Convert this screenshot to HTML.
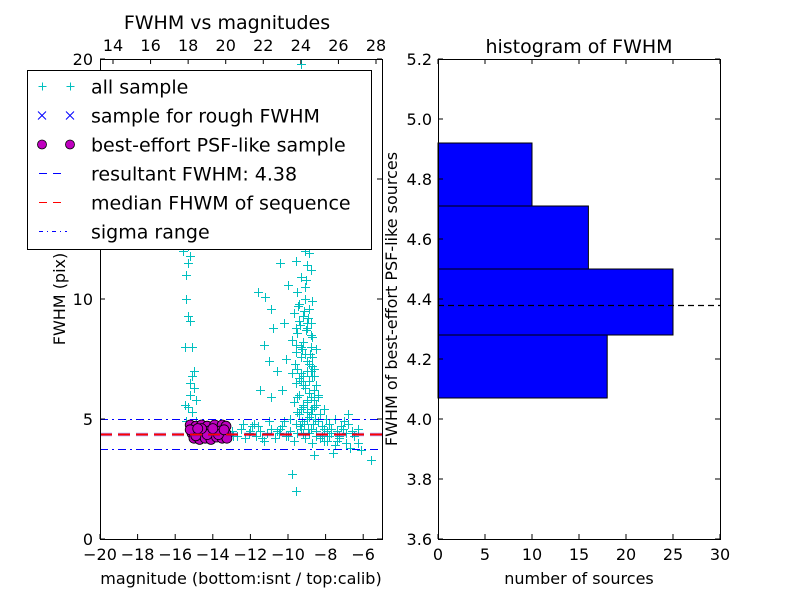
<!DOCTYPE html>
<html><head><meta charset="utf-8"><style>
body{margin:0;background:#fff;}
svg text{font-family:"DejaVu Sans","Liberation Sans",sans-serif;fill:#000;}
</style></head><body>
<svg id="fig" width="800" height="600" viewBox="0 0 800 600">
<rect width="800" height="600" fill="#fff"/>
<g id="left"></g>
<g id="right"></g>
</svg>
<script>
// ---- data ----
const allX=[-15.4,-15.3,-15.2,-15.3,-15.4,-15.3,-15.2,-15.4,-15.4,-15.3,-15.2,-15.5,-15.1,-15.0,-15.1,-15.2,-15.0,-15.2,-14.9,-15.3,-15.1,-15.4,-14.9,-15.5,-15.6,-15.3,
-9.3,-9.6,-9.2,-9.9,-8.9,-10.3,-9.5,-9.0,-10.1,-9.4,-8.7,-9.8,-9.1,-10.4,-9.6,-8.8,-9.3,-10.0,-9.5,-9.1,-8.9,-9.7,-9.4,-10.2,-9.0,-9.5,-9.8,-9.2,-8.8,-9.6,-9.3,-10.1,-9.0,-8.7,-9.5,-9.8,-9.2,-8.9,-9.6,-9.1,-8.6,-10.3,-9.4,-8.8,-9.0,-9.7,-8.5,-9.2,-8.7,-9.5,-8.3,-8.9,-9.9,-8.4,-7.8,-8.1,-7.5,-7.2,-6.8,-7.9,
-11.6,-11.2,-10.9,-10.8,-11.3,-11.0,-10.6,-11.5,-10.9,-11.8,-10.5,-9.9,-8.6,-10.8,-9.7,-9.4,-9.2,-9.0,-8.8,-9.3,-9.1,-8.9,-9.4,-9.2,-8.9,-9.0,-9.3,-8.8,-8.6,-9.1,-8.7,-8.5,-8.8,-8.4,-9.0,-8.6,
-13.0,-12.7,-12.5,-12.3,-12.1,-11.9,-11.7,-11.5,-11.3,-11.1,-10.9,-10.7,-10.5,-10.3,-10.1,-9.9,-9.7,-9.5,-9.3,-9.1,-8.9,-8.7,-8.5,-8.3,-8.1,-7.9,-7.7,-7.5,-7.3,-7.1,-6.9,-6.7,-6.5,-6.3,-6.1,-5.6,-8.6,-9.8,-9.6,-6.8,-7.6,-12.9,-12.0,-11.4,-10.6,-10.0,-9.2,-8.2,-7.4,-6.6,
-9.45,-9.15,-8.95,-9.35,-9.05,-8.75,-9.55,-9.25,-8.85,-9.65,-9.0,-8.7,-9.3,-9.1,-8.9,-9.5,-8.6,-9.2,-8.8,-9.4,-9.0,-8.55,-9.15,-8.65,-9.35,-8.95,-9.25,-8.8,-9.05,-8.5,-9.45,-8.7,-9.6,-8.9,-9.1,-8.4,-9.3,-8.6,-9.0,-8.8,
-8.2,-8.0,-7.7,-7.4,-7.0,-6.6,-6.3,-8.5,-8.1,-7.8,-7.3,-6.9,-10.2,-9.6,-11.0,-10.4,-12.4,-11.6];
const allY=[15.0,14.5,13.8,13.2,12.5,12.2,11.8,11.0,10.0,9.3,9.1,8.0,8.0,7.0,6.8,6.5,6.3,6.0,5.8,5.5,5.3,4.9,4.9,5.6,12.0,11.5,
19.8,17.5,16.8,16.0,15.5,15.2,14.8,14.3,13.5,13.0,12.8,12.4,12.0,11.5,11.6,11.2,10.9,10.6,10.3,10.0,9.6,9.4,9.1,9.0,8.8,8.6,8.3,8.2,8.0,7.8,7.6,7.5,7.4,7.2,7.1,6.9,6.8,6.6,6.5,6.3,6.2,6.2,6.0,5.9,5.7,5.7,5.6,5.5,5.4,5.3,5.2,5.1,5.0,4.9,4.8,5.4,5.0,4.7,5.2,4.5,
10.3,10.1,9.6,8.8,8.1,7.4,7.0,6.2,5.9,4.8,14.5,18.6,13.6,16.3,17.0,9.8,9.3,9.0,8.5,8.0,7.7,7.3,6.7,6.4,6.1,5.8,5.4,5.2,6.8,10.5,9.9,7.9,7.0,6.0,11.4,5.5,
4.5,4.3,4.6,4.2,4.4,4.7,4.3,4.5,4.1,4.4,4.6,4.2,4.4,4.7,4.3,4.5,4.1,4.4,4.6,4.2,4.4,4.0,4.5,4.2,4.6,4.1,4.4,3.9,4.3,4.6,4.0,3.8,4.3,4.0,3.7,3.3,3.5,2.7,2.0,4.8,3.6,4.3,4.5,4.2,4.5,4.3,4.4,4.3,4.1,4.5,
9.7,9.5,9.2,8.9,8.7,8.4,8.1,7.9,7.7,7.3,7.0,6.8,6.6,6.4,6.1,5.9,5.8,5.6,5.4,5.2,5.0,5.0,4.8,4.8,4.7,4.6,4.9,4.6,10.8,6.4,12.6,7.6,8.8,11.9,13.2,5.9,6.9,7.1,5.3,9.0,
4.7,5.0,4.6,4.5,4.9,4.4,4.6,4.3,4.1,4.3,4.2,4.4,4.9,4.8,4.9,4.6,4.8,4.7];
const psfX=[-15.2,-14.9,-14.6,-14.3,-13.9,-13.5,-13.3,-15.1,-14.8,-14.5,-14.2,-13.9,-13.6,-13.3,-15.0,-14.7,-14.4,-14.1,-13.8,-13.5,-13.25,-14.9,-14.3,-13.7,-14.0,-14.6,-13.4,-15.2,-14.8];
const psfY=[4.75,4.7,4.75,4.7,4.75,4.75,4.7,4.4,4.5,4.4,4.5,4.45,4.5,4.4,4.2,4.15,4.2,4.15,4.25,4.2,4.2,4.3,4.35,4.35,4.6,4.6,4.55,4.55,4.6];
const resultFWHM=4.38, sigmaLo=3.76, sigmaHi=5.0;
const xTicksBottom=[-20,-18,-16,-14,-12,-10,-8,-6];
const xTicksTop=[14,16,18,20,22,24,26,28];
const yTicksLeft=[0,5,10,15,20];
const binEdges=[4.07,4.28,4.50,4.71,4.92];
const binCounts=[18,25,16,10];
const histXTicks=[0,5,10,15,20,25,30];
const histYTicks=[3.6,3.8,4.0,4.2,4.4,4.6,4.8,5.0,5.2];

const NS="http://www.w3.org/2000/svg";
function mk(parent,tag,attrs,txt){const e=document.createElementNS(NS,tag);for(const k in attrs)e.setAttribute(k,attrs[k]);if(txt!==undefined)e.textContent=txt;parent.appendChild(e);return e;}

// ---- left panel ----
const L=document.getElementById('left');
const lx0=100,lx1=382,ly0=59,ly1=539;
const sx=v=>lx0+(v+20)/15*(lx1-lx0);
const sy=v=>ly1-v/20*(ly1-ly0);
const stx=v=>113+(v-14)/14*(376-113);
mk(L,'clipPath',{id:'lclip'});
mk(document.getElementById('lclip'),'rect',{x:lx0,y:ly0,width:lx1-lx0,height:ly1-ly0});
const pts=mk(L,'g',{'clip-path':'url(#lclip)'});


for(let i=0;i<allX.length;i++){const x=Math.round(sx(allX[i]))+0.5,y=Math.round(sy(allY[i]))+0.5;
 const p=mk(pts,'path',{d:`M${x-4.5},${y}H${x+4.5}M${x},${y-4.5}V${y+4.5}`,stroke:'#00bfbf','stroke-width':1});
 
 }
const ps=mk(L,'g',{});


for(let i=0;i<psfX.length;i++){const c=mk(ps,'circle',{cx:sx(psfX[i]),cy:sy(psfY[i]),r:5,fill:'#bf00bf',stroke:'#000','stroke-width':0.8});
 
 }
let ln;
const ry=v=>Math.round(sy(v))+0.5;
ln=mk(L,'line',{x1:lx0,x2:lx1,y1:ry(resultFWHM),y2:ry(resultFWHM),stroke:'#0000ff','stroke-width':3.5,'stroke-dasharray':'12,6',opacity:0.35});

ln=mk(L,'line',{x1:lx0,x2:lx1,y1:ry(resultFWHM),y2:ry(resultFWHM),stroke:'#ff0000','stroke-width':2,'stroke-dasharray':'12,6'});

for(const v of [sigmaLo,sigmaHi]){ln=mk(L,'line',{x1:lx0,x2:lx1,y1:ry(v),y2:ry(v),stroke:'#0000ff','stroke-width':1,'stroke-dasharray':'8,4,2,4'});
 }
mk(L,'rect',{x:lx0+0.5,y:ly0+0.5,width:lx1-lx0,height:ly1-ly0,fill:'none',stroke:'#000','stroke-width':1});
for(const t of xTicksBottom){const x=sx(t);mk(L,'path',{d:`M${x},${ly1}v-5M${x},${ly0}v0`,stroke:'#000'});
 mk(L,'text',{x:x,y:560,'text-anchor':'middle','font-size':16},t<0?'\u2212'+(-t):t);}
for(const t of xTicksTop){const x=stx(t);mk(L,'path',{d:`M${x},${ly0}v5`,stroke:'#000'});
 mk(L,'text',{x:x,y:51,'text-anchor':'middle','font-size':16},t);}
for(const t of yTicksLeft){const y=sy(t);mk(L,'path',{d:`M${lx0},${y}h5M${lx1},${y}h-5`,stroke:'#000'});
 mk(L,'text',{x:93,y:y+6,'text-anchor':'end','font-size':16},t);}
let tt;
tt=mk(L,'text',{x:241,y:584,'text-anchor':'middle','font-size':16},'magnitude (bottom:isnt / top:calib)');

tt=mk(L,'text',{x:0,y:0,'text-anchor':'middle','font-size':16,transform:'translate(65,299) rotate(-90)'},'FWHM (pix)');

tt=mk(L,'text',{x:227,y:29,'text-anchor':'middle','font-size':19},'FWHM vs magnitudes');

// legend
const lg=mk(L,'g',{});

mk(lg,'rect',{x:27.5,y:70.5,width:344,height:179,fill:'#fff',stroke:'#000'});
const labels=['all sample','sample for rough FWHM','best-effort PSF-like sample','resultant FWHM: 4.38','median FHWM of sequence','sigma range'];
labels.forEach((s,i)=>{const y=86.5+i*29;
 if(i==0){for(const x of [42.5,70.5])mk(lg,'path',{d:`M${x-4},${y}h8M${x},${y-4}v8`,stroke:'#00bfbf'});}
 if(i==1){for(const x of [42,70])mk(lg,'path',{d:`M${x-4},${y-4}l8,8M${x-4},${y+4}l8,-8`,stroke:'#0000ff'});}
 if(i==2){for(const x of [42,70])mk(lg,'circle',{cx:x,cy:y,r:4.5,fill:'#bf00bf',stroke:'#000','stroke-width':0.8});}
 if(i==3)mk(lg,'line',{x1:39,x2:67,y1:y,y2:y,stroke:'#0000ff','stroke-dasharray':'8,6'});
 if(i==4)mk(lg,'line',{x1:39,x2:67,y1:y,y2:y,stroke:'#ff0000','stroke-dasharray':'8,6'});
 if(i==5)mk(lg,'line',{x1:39,x2:67,y1:y,y2:y,stroke:'#0000ff','stroke-dasharray':'4,4,1,4'});
 const e=mk(lg,'text',{x:91,y:y+7,'font-size':19},s);
 });

// ---- right panel ----
const R=document.getElementById('right');
const rx0=438,rx1=720,ry0=59,ry1=539;
const hx=v=>rx0+v/30*(rx1-rx0);
const hy=v=>ry1-(v-3.6)/1.6*(ry1-ry0);
for(let i=0;i<binCounts.length;i++){const b=mk(R,'rect',{x:hx(0),y:hy(binEdges[i+1]),width:hx(binCounts[i])-hx(0),height:hy(binEdges[i])-hy(binEdges[i+1]),fill:'#0000ff',stroke:'#000','stroke-width':1});
 }
ln=mk(R,'line',{x1:rx0,x2:rx1,y1:Math.round(hy(resultFWHM))+0.5,y2:Math.round(hy(resultFWHM))+0.5,stroke:'#000','stroke-width':1.3,'stroke-dasharray':'6,4'});

mk(R,'rect',{x:rx0+0.5,y:ry0+0.5,width:rx1-rx0,height:ry1-ry0,fill:'none',stroke:'#000'});
for(const t of histXTicks){const x=hx(t);mk(R,'path',{d:`M${x},${ry1}v-5M${x},${ry0}v5`,stroke:'#000'});
 mk(R,'text',{x:x,y:560,'text-anchor':'middle','font-size':16},t);}
for(const t of histYTicks){const y=hy(t);mk(R,'path',{d:`M${rx0},${y}h5M${rx1},${y}h-5`,stroke:'#000'});
 mk(R,'text',{x:432,y:y+6,'text-anchor':'end','font-size':16},t.toFixed(1));}
tt=mk(R,'text',{x:579,y:584,'text-anchor':'middle','font-size':16},'number of sources');

tt=mk(R,'text',{x:0,y:0,'text-anchor':'middle','font-size':16,transform:'translate(397,299) rotate(-90)'},'FWHM of best-effort PSF-like sources');

tt=mk(R,'text',{x:579,y:53,'text-anchor':'middle','font-size':19},'histogram of FWHM');

</script>
</body></html>
